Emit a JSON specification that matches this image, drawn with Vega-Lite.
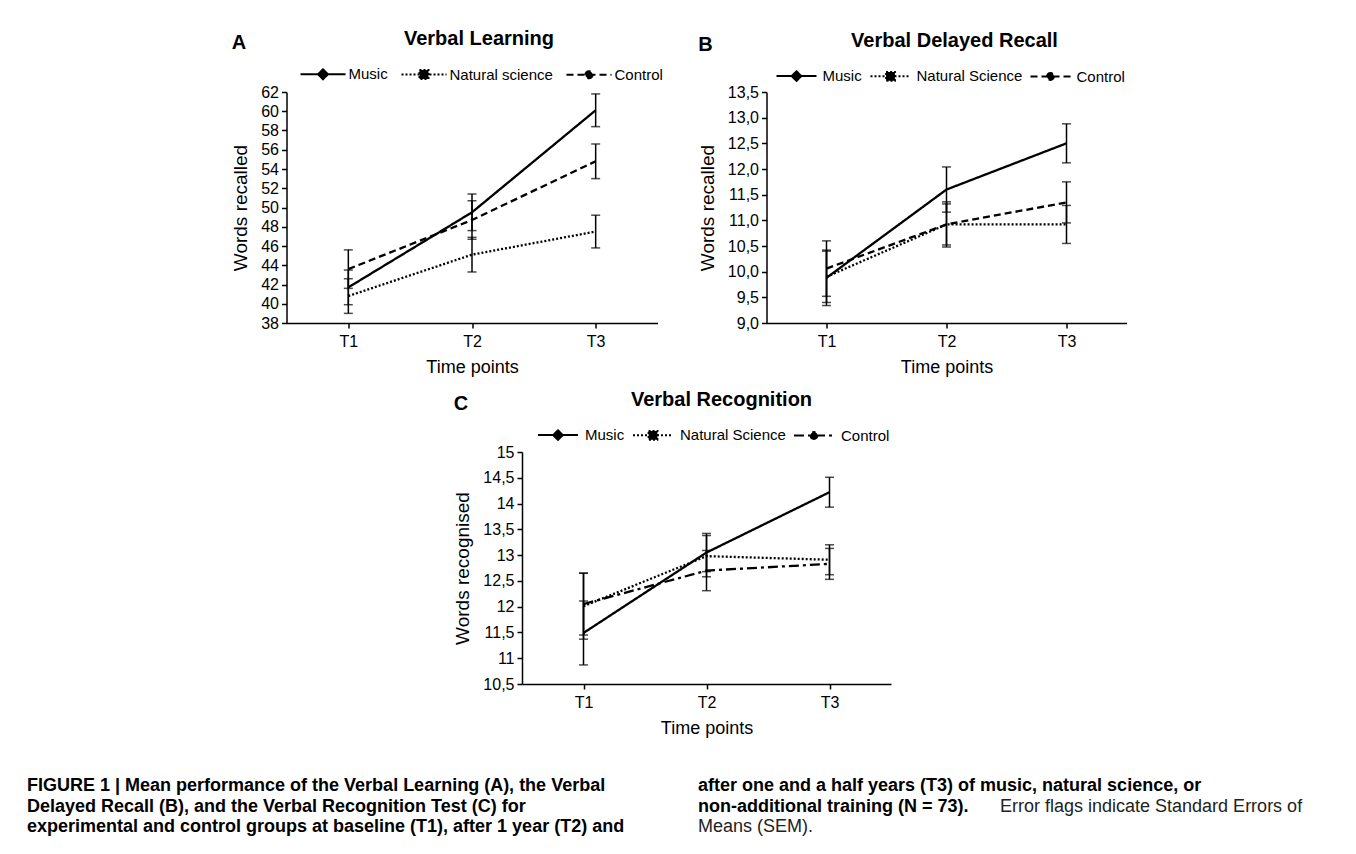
{
  "$schema": "https://vega.github.io/schema/vega-lite/v6.json",
  "background": "white",
  "padding": {"left": 27, "top": 28, "right": 0, "bottom": 0},
  "config": {
    "font": "Liberation Sans",
    "view": {"stroke": null},
    "axis": {
      "domainColor": "black", "domainWidth": 1.5, "tickColor": "black", "tickWidth": 1.5, "tickSize": 5,
      "labelColor": "black", "labelFont": "Liberation Sans", "labelFontSize": 16, "labelPadding": 3,
      "titleFont": "Liberation Sans", "titleFontSize": 18, "titleFontWeight": "normal", "titleColor": "black",
      "grid": false, "labelOverlap": false
    },
    "axisX": {"labelAngle": 0, "labelPadding": 5, "titlePadding": 9},
    "axisY": {"titleFontSize": 19, "titlePadding": 10},
    "legend": {
      "orient": "none", "direction": "horizontal", "title": null, "symbolStrokeWidth": 2, "symbolOpacity": 1,
      "labelFontSize": 15, "labelColor": "black", "labelFont": "Liberation Sans", "padding": 0
    },
    "title": {"fontSize": 20, "fontWeight": "bold", "color": "black", "font": "Liberation Sans"}
  },
  "resolve": {"scale": {"strokeDash": "independent", "shape": "independent"}, "legend": {"strokeDash": "independent", "shape": "independent"}},
  "vconcat": [
    {
      "center": true,
      "spacing": 14,
      "resolve": {"scale": {"strokeDash": "independent", "shape": "independent"}, "legend": {"strokeDash": "independent", "shape": "independent"}},
      "vconcat": [
        {
          "spacing": 34,
          "resolve": {"scale": {"strokeDash": "independent", "shape": "independent"}, "legend": {"strokeDash": "independent", "shape": "independent"}},
          "hconcat": [
            {
              "title": {"text": "A", "anchor": "start", "offset": 0, "dy": 24},
              "resolve": {"scale": {"strokeDash": "independent", "shape": "independent"}, "legend": {"strokeDash": "independent", "shape": "independent"}},
              "vconcat": [
                {
                  "width": 371, "height": 231,
                  "title": {"text": "Verbal Learning", "anchor": "middle", "offset": 2, "dx": 7},
                  "data": {"values": [
                    {"time": "T1", "group": "Music", "mean": 41.7, "sem": 1.8},
                    {"time": "T2", "group": "Music", "mean": 49.5, "sem": 1.9},
                    {"time": "T3", "group": "Music", "mean": 60.1, "sem": 1.7},
                    {"time": "T1", "group": "Natural science", "mean": 40.8, "sem": 1.8},
                    {"time": "T2", "group": "Natural science", "mean": 45.1, "sem": 1.8},
                    {"time": "T3", "group": "Natural science", "mean": 47.5, "sem": 1.7},
                    {"time": "T1", "group": "Control", "mean": 43.6, "sem": 2.0},
                    {"time": "T2", "group": "Control", "mean": 48.7, "sem": 2.0},
                    {"time": "T3", "group": "Control", "mean": 54.8, "sem": 1.8}
                  ]},
                  "encoding": {
                    "x": {"field": "time", "type": "ordinal", "scale": {"type": "point", "padding": 0.5}, "axis": {"title": "Time points"}},
                    "y": {"field": "mean", "type": "quantitative", "scale": {"domain": [38, 62], "nice": false, "zero": false},
                          "axis": {"title": "Words recalled", "values": [38, 40, 42, 44, 46, 48, 50, 52, 54, 56, 58, 60, 62]}}
                  },
                  "layer": [
                    {"mark": {"type": "point", "filled": true, "fill": "black", "stroke": "black", "strokeWidth": 2, "opacity": 0},
                     "encoding": {"shape": {"field": "group", "type": "nominal",
                       "scale": {"domain": ["Music", "Natural science", "Control"], "range": [
                         "M-1,0H1M0,-0.22L0.22,0L0,0.22L-0.22,0Z",
                         "M-1,0H1M-0.2,-0.2H0.2V0.2H-0.2Z",
                         "M-1,0H1M0.16,0A0.16,0.16,0,1,1,-0.16,0A0.16,0.16,0,1,1,0.16,0Z"]},
                       "legend": {"legendX": 13, "legendY": -41.5, "symbolSize": 2025, "columnPadding": 9, "labelOffset": 2}}}},
                    {"mark": {"type": "line", "color": "black", "strokeWidth": 2.3},
                     "encoding": {"strokeDash": {"field": "group", "type": "nominal",
                       "scale": {"domain": ["Music", "Natural science", "Control"], "range": [[1, 0], [2, 2], [7, 4]]},
                       "legend": {"legendX": 13, "legendY": -41.5, "symbolSize": 2025, "columnPadding": 9, "labelOffset": 2}}}},
                    {"mark": {"type": "errorbar", "color": "black", "thickness": 1.5, "ticks": {"size": 9, "thickness": 1.5, "color": "black"}},
                     "encoding": {"yError": {"field": "sem"}}}
                  ]
                }
              ]
            },
            {
              "title": {"text": "B", "anchor": "start", "offset": 0, "dy": 24},
              "resolve": {"scale": {"strokeDash": "independent", "shape": "independent"}, "legend": {"strokeDash": "independent", "shape": "independent"}},
              "vconcat": [
                {
                  "width": 360, "height": 231,
                  "title": {"text": "Verbal Delayed Recall", "anchor": "middle", "offset": 4, "dx": 8},
                  "data": {"values": [
                    {"time": "T1", "group": "Music", "mean": 9.88, "sem": 0.54},
                    {"time": "T2", "group": "Music", "mean": 11.6, "sem": 0.44},
                    {"time": "T3", "group": "Music", "mean": 12.5, "sem": 0.38},
                    {"time": "T1", "group": "Natural Science", "mean": 9.9, "sem": 0.5},
                    {"time": "T2", "group": "Natural Science", "mean": 10.92, "sem": 0.4},
                    {"time": "T3", "group": "Natural Science", "mean": 10.92, "sem": 0.37},
                    {"time": "T1", "group": "Control", "mean": 10.06, "sem": 0.54},
                    {"time": "T2", "group": "Control", "mean": 10.92, "sem": 0.44},
                    {"time": "T3", "group": "Control", "mean": 11.35, "sem": 0.4}
                  ]},
                  "encoding": {
                    "x": {"field": "time", "type": "ordinal", "scale": {"type": "point", "padding": 0.5}, "axis": {"title": "Time points"}},
                    "y": {"field": "mean", "type": "quantitative", "scale": {"domain": [9, 13.5], "nice": false, "zero": false},
                          "axis": {"title": "Words recalled", "values": [9, 9.5, 10, 10.5, 11, 11.5, 12, 12.5, 13, 13.5],
                                   "labelExpr": "replace(format(datum.value, '.1f'), '.', ',')"}}
                  },
                  "layer": [
                    {"mark": {"type": "point", "filled": true, "fill": "black", "stroke": "black", "strokeWidth": 2, "opacity": 0},
                     "encoding": {"shape": {"field": "group", "type": "nominal",
                       "scale": {"domain": ["Music", "Natural Science", "Control"], "range": [
                         "M-1,0H1M0,-0.24L0.24,0L0,0.24L-0.24,0Z",
                         "M-1,0H1M-0.22,-0.22H0.22V0.22H-0.22Z",
                         "M-1,0H1M0.17,0A0.17,0.17,0,1,1,-0.17,0A0.17,0.17,0,1,1,0.17,0Z"]},
                       "legend": {"legendX": 9, "legendY": -37, "symbolSize": 1600, "columnPadding": 4, "labelOffset": 5}}}},
                    {"mark": {"type": "line", "color": "black", "strokeWidth": 2.3},
                     "encoding": {"strokeDash": {"field": "group", "type": "nominal",
                       "scale": {"domain": ["Music", "Natural Science", "Control"], "range": [[1, 0], [2, 2], [7, 4]]},
                       "legend": {"legendX": 9, "legendY": -37, "symbolSize": 1600, "columnPadding": 4, "labelOffset": 5}}}},
                    {"mark": {"type": "errorbar", "color": "black", "thickness": 1.5, "ticks": {"size": 9, "thickness": 1.5, "color": "black"}},
                     "encoding": {"yError": {"field": "sem"}}}
                  ]
                }
              ]
            }
          ]
        },
        {
          "title": {"text": "C", "anchor": "start", "offset": 0, "dy": 24},
          "resolve": {"scale": {"strokeDash": "independent", "shape": "independent"}, "legend": {"strokeDash": "independent", "shape": "independent"}},
          "vconcat": [
            {
              "width": 369, "height": 232,
              "title": {"text": "Verbal Recognition", "anchor": "middle", "offset": 4, "dx": 15},
              "data": {"values": [
                {"time": "T1", "group": "Music", "mean": 11.49, "sem": 0.62},
                {"time": "T2", "group": "Music", "mean": 13.05, "sem": 0.37},
                {"time": "T3", "group": "Music", "mean": 14.22, "sem": 0.29},
                {"time": "T1", "group": "Natural Science", "mean": 12.01, "sem": 0.64},
                {"time": "T2", "group": "Natural Science", "mean": 12.98, "sem": 0.4},
                {"time": "T3", "group": "Natural Science", "mean": 12.91, "sem": 0.29},
                {"time": "T1", "group": "Control", "mean": 12.05, "sem": 0.6},
                {"time": "T2", "group": "Control", "mean": 12.7, "sem": 0.39},
                {"time": "T3", "group": "Control", "mean": 12.83, "sem": 0.3}
              ]},
              "encoding": {
                "x": {"field": "time", "type": "ordinal", "scale": {"type": "point", "padding": 0.5}, "axis": {"title": "Time points"}},
                "y": {"field": "mean", "type": "quantitative", "scale": {"domain": [10.5, 15], "nice": false, "zero": false},
                      "axis": {"title": "Words recognised", "values": [10.5, 11, 11.5, 12, 12.5, 13, 13.5, 14, 14.5, 15],
                               "labelExpr": "replace(format(datum.value, '~g'), '.', ',')"}}
              },
              "layer": [
                {"mark": {"type": "point", "filled": true, "fill": "black", "stroke": "black", "strokeWidth": 2, "opacity": 0},
                 "encoding": {"shape": {"field": "group", "type": "nominal",
                   "scale": {"domain": ["Music", "Natural Science", "Control"], "range": [
                     "M-1,0H1M0,-0.24L0.24,0L0,0.24L-0.24,0Z",
                     "M-1,0H1M-0.22,-0.22H0.22V0.22H-0.22Z",
                     "M-1,0H1M0.17,0A0.17,0.17,0,1,1,-0.17,0A0.17,0.17,0,1,1,0.17,0Z"]},
                   "legend": {"legendX": 15, "legendY": -38, "symbolSize": 1600, "columnPadding": 4, "labelOffset": 6}}}},
                {"mark": {"type": "line", "color": "black", "strokeWidth": 2.3},
                 "encoding": {"strokeDash": {"field": "group", "type": "nominal",
                   "scale": {"domain": ["Music", "Natural Science", "Control"], "range": [[1, 0], [2, 2], [10, 4, 3, 4]]},
                   "legend": {"legendX": 15, "legendY": -38, "symbolSize": 1600, "columnPadding": 4, "labelOffset": 6}}}},
                {"mark": {"type": "errorbar", "color": "black", "thickness": 1.5, "ticks": {"size": 9, "thickness": 1.5, "color": "black"}},
                 "encoding": {"yError": {"field": "sem"}}}
              ]
            }
          ]
        }
      ]
    },
    {
      "width": 1359, "height": 41,
      "view": {"fill": "white", "stroke": null},
      "data": {"values": [
        {"col": "L", "line": 1, "seg": "b", "text": "FIGURE 1 | Mean performance of the Verbal Learning (A), the Verbal"},
        {"col": "L", "line": 2, "seg": "b", "text": "Delayed Recall (B), and the Verbal Recognition Test (C) for"},
        {"col": "L", "line": 3, "seg": "b", "text": "experimental and control groups at baseline (T1), after 1 year (T2) and"},
        {"col": "R", "line": 1, "seg": "b", "text": "after one and a half years (T3) of music, natural science, or"},
        {"col": "R", "line": 2, "seg": "b", "text": "non-additional training (N = 73)."},
        {"col": "R", "line": 2, "seg": "r2", "text": "Error flags indicate Standard Errors of"},
        {"col": "R", "line": 3, "seg": "r", "text": "Means (SEM)."}
      ]},
      "encoding": {
        "x": {"field": "col", "type": "nominal", "scale": {"type": "point", "domain": ["L", "R"], "padding": 0, "range": [0, 671]}, "axis": null},
        "y": {"field": "line", "type": "ordinal", "scale": {"type": "point", "domain": [1, 2, 3], "padding": 0}, "axis": null},
        "text": {"field": "text"}
      },
      "layer": [
        {"transform": [{"filter": "datum.seg === 'b'"}],
         "mark": {"type": "text", "align": "left", "baseline": "middle", "fontSize": 18, "fontWeight": "bold", "color": "black"}},
        {"transform": [{"filter": "datum.seg === 'r'"}],
         "mark": {"type": "text", "align": "left", "baseline": "middle", "fontSize": 18, "color": "#222222"}},
        {"transform": [{"filter": "datum.seg === 'r2'"}],
         "mark": {"type": "text", "align": "left", "baseline": "middle", "fontSize": 18, "color": "#222222", "dx": 302}}
      ]
    }
  ],
  "spacing": 40,
  "center": true
}
